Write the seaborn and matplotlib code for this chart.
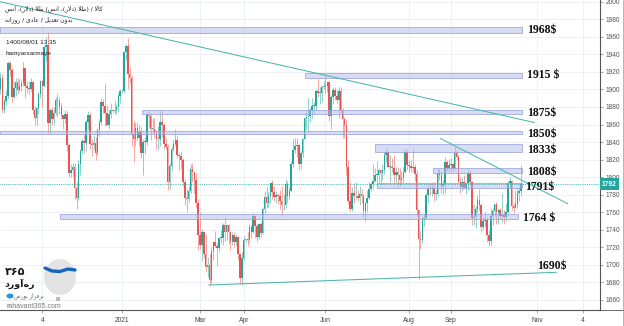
import numpy as np
import pandas as pd
import matplotlib
matplotlib.use("Agg")
import matplotlib.pyplot as plt
import seaborn as sns
from matplotlib.patches import Rectangle, Ellipse
from matplotlib.lines import Line2D

# ---------------- data (daily gold candles) ----------------
start_date = "2020-10-05"
end_date = "2021-10-22"
first_open = 1900

close = [
    1913, 1877, 1887, 1893, 1930, 1922, 1891, 1902, 1908, 1899,
    1904, 1907, 1924, 1904, 1902, 1901, 1908, 1877, 1868, 1879,
    1895, 1910, 1904, 1948, 1951, 1862, 1877, 1866, 1873, 1888,
    1887, 1880, 1871, 1866, 1872, 1837, 1805, 1808, 1811, 1788,
    1776, 1815, 1830, 1841, 1839, 1863, 1871, 1838, 1837, 1839,
    1827, 1854, 1863, 1886, 1881, 1873, 1859, 1872, 1876, 1875,
    1877, 1880, 1893, 1898, 1898, 1943, 1950, 1918, 1913, 1849,
    1844, 1856, 1845, 1851, 1828, 1840, 1840, 1871, 1870, 1855,
    1855, 1850, 1843, 1843, 1863, 1860, 1838, 1834, 1794, 1813,
    1832, 1838, 1842, 1825, 1824, 1819, 1795, 1776, 1775, 1784,
    1809, 1806, 1797, 1770, 1734, 1723, 1738, 1712, 1697, 1700,
    1683, 1716, 1726, 1722, 1719, 1731, 1731, 1745, 1737, 1745,
    1738, 1726, 1734, 1726, 1732, 1712, 1685, 1708, 1728, 1729,
    1728, 1743, 1737, 1756, 1744, 1732, 1746, 1736, 1764, 1777,
    1770, 1779, 1793, 1783, 1777, 1780, 1778, 1773, 1768, 1768,
    1792, 1779, 1784, 1815, 1831, 1836, 1837, 1815, 1827, 1843,
    1867, 1869, 1870, 1877, 1881, 1881, 1898, 1896, 1896, 1903,
    1904, 1904, 1908, 1870, 1891, 1899, 1893, 1888, 1898, 1877,
    1866, 1859, 1812, 1773, 1764, 1782, 1778, 1779, 1776, 1781,
    1779, 1761, 1770, 1776, 1787, 1792, 1796, 1803, 1803, 1808,
    1805, 1808, 1825, 1829, 1812, 1812, 1810, 1803, 1806, 1802,
    1797, 1799, 1806, 1829, 1814, 1813, 1810, 1812, 1804, 1763,
    1729, 1728, 1752, 1753, 1780, 1787, 1786, 1788, 1781, 1781,
    1805, 1802, 1790, 1792, 1817, 1810, 1814, 1815, 1810, 1828,
    1823, 1795, 1789, 1795, 1788, 1793, 1805, 1795, 1753, 1754,
    1764, 1774, 1768, 1743, 1750, 1751, 1734, 1727, 1756, 1761,
    1769, 1760, 1763, 1756, 1757, 1754, 1760, 1793, 1796, 1767,
    1765, 1769, 1782, 1784, 1792,
]
high = [
    1920, 1918, 1889, 1899, 1933, 1933, 1925, 1909, 1913, 1913,
    1912, 1912, 1931, 1925, 1910, 1910, 1913, 1910, 1881, 1880,
    1897, 1911, 1911, 1950, 1960, 1965, 1879, 1880, 1880, 1891,
    1896, 1891, 1884, 1871, 1876, 1875, 1839, 1815, 1816, 1816,
    1794, 1819, 1832, 1845, 1848, 1866, 1875, 1874, 1843, 1848,
    1846, 1856, 1866, 1890, 1889, 1907, 1882, 1878, 1884, 1878,
    1888, 1883, 1896, 1900, 1900, 1944, 1952, 1959, 1926, 1916,
    1864, 1863, 1863, 1860, 1857, 1843, 1846, 1874, 1876, 1873,
    1867, 1867, 1854, 1858, 1875, 1876, 1862, 1845, 1837, 1816,
    1836, 1843, 1855, 1848, 1828, 1830, 1822, 1798, 1787, 1790,
    1815, 1816, 1805, 1805, 1775, 1760, 1741, 1738, 1735, 1709,
    1712, 1720, 1727, 1739, 1725, 1731, 1740, 1748, 1755, 1747,
    1747, 1738, 1738, 1738, 1735, 1733, 1713, 1715, 1733, 1730,
    1738, 1746, 1745, 1759, 1756, 1746, 1748, 1749, 1766, 1784,
    1790, 1783, 1794, 1797, 1790, 1784, 1782, 1785, 1790, 1781,
    1798, 1796, 1789, 1818, 1844, 1845, 1845, 1838, 1830, 1845,
    1869, 1875, 1890, 1879, 1890, 1886, 1900, 1913, 1903, 1905,
    1910, 1916, 1909, 1909, 1894, 1903, 1903, 1899, 1903, 1903,
    1879, 1869, 1866, 1819, 1794, 1789, 1793, 1795, 1785, 1790,
    1786, 1781, 1771, 1785, 1795, 1795, 1815, 1810, 1818, 1810,
    1809, 1815, 1829, 1834, 1831, 1825, 1822, 1825, 1812, 1811,
    1810, 1807, 1811, 1833, 1832, 1820, 1820, 1832, 1815, 1808,
    1764, 1739, 1756, 1758, 1782, 1791, 1793, 1795, 1795, 1785,
    1809, 1809, 1807, 1797, 1823, 1819, 1821, 1822, 1816, 1834,
    1831, 1826, 1800, 1799, 1803, 1795, 1809, 1808, 1796, 1769,
    1767, 1780, 1787, 1770, 1754, 1760, 1754, 1740, 1765, 1765,
    1769, 1772, 1765, 1765, 1782, 1763, 1770, 1796, 1800, 1797,
    1770, 1785, 1788, 1789, 1814,
]
low = [
    1895, 1873, 1873, 1882, 1889, 1915, 1886, 1890, 1893, 1895,
    1898, 1898, 1904, 1890, 1896, 1895, 1898, 1872, 1859, 1860,
    1872, 1890, 1880, 1903, 1932, 1850, 1849, 1860, 1861, 1871,
    1869, 1872, 1866, 1855, 1862, 1830, 1800, 1800, 1800, 1775,
    1764, 1774, 1803, 1826, 1828, 1830, 1855, 1832, 1824, 1831,
    1820, 1825, 1847, 1859, 1873, 1858, 1858, 1855, 1868, 1873,
    1872, 1872, 1874, 1885, 1896, 1896, 1934, 1901, 1907, 1835,
    1817, 1836, 1842, 1836, 1822, 1803, 1826, 1837, 1857, 1842,
    1851, 1845, 1832, 1831, 1835, 1846, 1832, 1832, 1785, 1787,
    1807, 1830, 1836, 1822, 1808, 1809, 1790, 1768, 1760, 1770,
    1782, 1795, 1782, 1765, 1717, 1718, 1704, 1708, 1692, 1686,
    1676, 1679, 1705, 1720, 1699, 1716, 1725, 1723, 1727, 1728,
    1724, 1717, 1723, 1720, 1723, 1705, 1678, 1677, 1705, 1726,
    1721, 1725, 1731, 1736, 1731, 1727, 1730, 1732, 1735, 1759,
    1765, 1766, 1770, 1775, 1773, 1770, 1769, 1764, 1756, 1763,
    1765, 1770, 1774, 1784, 1812, 1828, 1823, 1808, 1809, 1823,
    1843, 1855, 1852, 1863, 1868, 1872, 1877, 1891, 1883, 1886,
    1900, 1896, 1897, 1864, 1855, 1883, 1888, 1884, 1868, 1873,
    1845, 1845, 1803, 1769, 1761, 1761, 1771, 1775, 1773, 1768,
    1771, 1755, 1750, 1760, 1775, 1784, 1786, 1794, 1793, 1795,
    1791, 1797, 1804, 1817, 1810, 1795, 1806, 1794, 1793, 1789,
    1790, 1792, 1794, 1805, 1808, 1806, 1806, 1806, 1796, 1756,
    1684, 1718, 1725, 1744, 1752, 1771, 1780, 1778, 1773, 1774,
    1778, 1797, 1782, 1780, 1782, 1807, 1806, 1807, 1805, 1808,
    1819, 1794, 1782, 1784, 1786, 1781, 1785, 1792, 1745, 1745,
    1742, 1760, 1763, 1737, 1740, 1743, 1726, 1721, 1723, 1745,
    1756, 1746, 1746, 1752, 1749, 1747, 1750, 1757, 1788, 1762,
    1759, 1765, 1765, 1773, 1778,
]
last_price = 1792

# horizontal support / resistance zones
zone_labels = ["1968$", "1915 $", "1875$", "1850$", "1833$", "1808$", "1791$", "1764 $"]
zone_low = [1964.0, 1913.0, 1872.0, 1849.6, 1829.0, 1805.0, 1787.3, 1752.0]
zone_high = [1971.0, 1919.0, 1876.6, 1853.0, 1837.8, 1810.4, 1793.7, 1758.0]

# x-axis labels
tick_dates = ["2020-11-04", "2021-01-01", "2021-03-01", "2021-04-01",
              "2021-06-01", "2021-08-02", "2021-09-01"]
tick_texts = ["4", "2021", "Mar", "Apr", "Jun", "Aug", "Sep", "Nov", "4"]
future_ticks = [282.4, 306.4]

# ---------------- layout / styles ----------------
zone_start = [-0.3, 160.3, 74.3, -0.3, 197.1, 227.8, 198.0, 31.3]
zone_end = [274.5, 274.5, 274.5, 274.5, 274.5, 274.5, 274.5, 272.4]
label_x = [277.1, 277.1, 277.1, 277.1, 277.1, 277.1, 276.0, 275.0]
label_y = [1967.8, 1916.5, 1873.5, 1848.9, 1831.3, 1805.5, 1788.4, 1753.1]
trend_lines = [((-0.3, 2000.1), (281.3, 1862.1)),
               ((231.3, 1844.3), (298.8, 1769.4)),
               ((109.4, 1677.0), (292.7, 1691.5))]
support_label = ("1690$", 282.4, 1698.7)

UP = "#26a69a"
DOWN = "#ef5350"
TEAL = "#4db6ac"
GRID = "#edf1f6"

sns.set_theme(style="white")
plt.rcParams["font.family"] = ["Liberation Sans", "DejaVu Sans"]

# ---------------- simple Persian shaping (presentation forms) ----------------
FORMS = {  # isolated, final, initial, medial
    'ا': ('\uFE8D', '\uFE8E', None, None),
    'آ': ('\uFE81', '\uFE82', None, None),
    'ب': ('\uFE8F', '\uFE90', '\uFE91', '\uFE92'),
    'ت': ('\uFE95', '\uFE96', '\uFE97', '\uFE98'),
    'د': ('\uFEA9', '\uFEAA', None, None),
    'ر': ('\uFEAD', '\uFEAE', None, None),
    'ز': ('\uFEAF', '\uFEB0', None, None),
    'س': ('\uFEB1', '\uFEB2', '\uFEB3', '\uFEB4'),
    'ط': ('\uFEC1', '\uFEC2', '\uFEC3', '\uFEC4'),
    'ع': ('\uFEC9', '\uFECA', '\uFECB', '\uFECC'),
    'ف': ('\uFED1', '\uFED2', '\uFED3', '\uFED4'),
    'ک': ('\uFB8E', '\uFB8F', '\uFB90', '\uFB91'),
    'ل': ('\uFEDD', '\uFEDE', '\uFEDF', '\uFEE0'),
    'ن': ('\uFEE5', '\uFEE6', '\uFEE7', '\uFEE8'),
    'ه': ('\uFEE9', '\uFEEA', '\uFEEB', '\uFEEC'),
    'و': ('\uFEED', '\uFEEE', None, None),
    'ی': ('\uFBFC', '\uFBFD', '\uFBFE', '\uFBFF'),
}


def shape(text):
    ch = list(text)
    n = len(ch)
    out = []

    def joins_prev(k):
        return k - 1 >= 0 and ch[k - 1] in FORMS and FORMS[ch[k - 1]][2] is not None

    i = 0
    while i < n:
        c = ch[i]
        if c == 'ل' and i + 1 < n and ch[i + 1] in 'اآ':
            lig = ('\uFEFB', '\uFEFC') if ch[i + 1] == 'ا' else ('\uFEF5', '\uFEF6')
            out.append(lig[1] if joins_prev(i) else lig[0])
            i += 2
            continue
        if c in FORMS:
            iso, fin, ini, med = FORMS[c]
            p = joins_prev(i)
            nx = ini is not None and i + 1 < n and ch[i + 1] in FORMS
            out.append(med if (p and nx) else fin if p else ini if nx else iso)
        elif c != '\u200c':
            out.append(c)
        i += 1
    vis = ''.join(reversed(out))
    return vis.translate(str.maketrans('()', ')('))


# ---------------- figure ----------------
W, H = 624, 326
fig = plt.figure(figsize=(W / 100, H / 100), dpi=100)
ax = fig.add_axes([0, 16 / H, 600 / W, 310 / H])
ax.set_facecolor("white")

dates = pd.bdate_range(start_date, end_date)
n = len(close)
assert len(dates) == n == len(high) == len(low)
opens = np.array([first_open] + close[:-1], dtype=float)
df = pd.DataFrame({"date": dates, "open": opens, "high": high,
                   "low": low, "close": close})
df["x"] = np.arange(n)
df["up"] = df["close"] >= df["open"]
df["bottom"] = df[["open", "close"]].min(axis=1)
df["body"] = (df["close"] - df["open"]).abs().clip(lower=0.8)

wick_cols = [(0.15, 0.65, 0.60, 0.6) if u else (0.94, 0.33, 0.31, 0.6) for u in df["up"]]
body_cols = [UP if u else DOWN for u in df["up"]]

ax.vlines(df["x"], df["low"], df["high"], colors=wick_cols, lw=0.6, zorder=2)
ax.bar(df["x"], df["body"], bottom=df["bottom"], width=0.82,
       color=body_cols, linewidth=0, zorder=3)

# zones
for lo, hi, x0, x1 in zip(zone_low, zone_high, zone_start, zone_end):
    ax.add_patch(Rectangle((x0, lo), x1 - x0, hi - lo,
                           facecolor=(0.70, 0.73, 0.90, 0.50),
                           edgecolor=(0.58, 0.62, 0.86, 0.85), lw=0.6, zorder=4))
for txt, lx, ly in zip(zone_labels, label_x, label_y):
    ax.text(lx, ly, txt, ha="left", va="center", fontsize=8.5,
            fontweight="bold", family="Liberation Serif", color="#111", zorder=6)
ax.text(support_label[1], support_label[2], support_label[0], ha="left", va="center",
        fontsize=8.5, fontweight="bold", family="Liberation Serif", color="#111", zorder=6)

# trend lines
for (xa, ya), (xb, yb) in trend_lines:
    ax.plot([xa, xb], [ya, yb], color=TEAL, lw=0.75, zorder=5, solid_capstyle="butt")

# last price line
ax.axhline(last_price, color=UP, lw=0.6, ls=(0, (1, 1.2)), zorder=4)
ax.annotate(str(last_price), xy=(1, last_price), xycoords=("axes fraction", "data"),
            xytext=(1.5, 0), textcoords="offset points", ha="left", va="center",
            fontsize=4.8, color="white", fontweight="bold",
            bbox=dict(boxstyle="square,pad=0.35", fc=UP, ec="none"),
            annotation_clip=False, zorder=10)

# axes
ax.set_xlim(-0.26, 315.5)
ax.set_ylim(1648.5, 2002)
tick_pos = [dates.get_loc(pd.Timestamp(d)) if pd.Timestamp(d) in dates
            else dates.searchsorted(pd.Timestamp(d)) for d in tick_dates] + future_ticks
ax.set_xticks(tick_pos)
ax.set_xticklabels(tick_texts)
ax.set_yticks(np.arange(1660, 2001, 20))
ax.yaxis.tick_right()
ax.grid(True, color=GRID, lw=0.7, zorder=0)
ax.set_axisbelow(True)
ax.tick_params(axis="y", length=2.5, width=0.5, pad=1.5, labelsize=4.8,
               labelcolor="#555", color="#888", right=True, left=False)
ax.tick_params(axis="x", length=2, width=0.5, pad=3, labelsize=4.8,
               labelcolor="#444", color="#888", bottom=True)
for s in ["top", "left"]:
    ax.spines[s].set_visible(False)
for s in ["right", "bottom"]:
    ax.spines[s].set_color("#555")
    ax.spines[s].set_linewidth(0.8)

# frame pieces outside the axes
fig.add_artist(Line2D([600 / W, 1], [16 / H, 16 / H], color="#555", lw=0.6))
fig.add_artist(Line2D([622.5 / W, 622.5 / W], [0, 1], color="#999", lw=0.5))


def fx(px):
    return px / W


def fy(py):
    return 1 - py / H


# header texts
line1 = shape("طلا (دلار)، انس") + " " + shape("(طلا (دلار)، انس)") + " / " + shape("کالا")
line2 = shape("روزانه") + " / " + shape("عادی") + " / " + shape("بدون تعدیل")
fig.text(fx(5), fy(9), line1, fontsize=4.3, family=["DejaVu Sans"], color="#222",
         ha="left", va="center")
fig.text(fx(5), fy(20), line2, fontsize=4.3, family=["DejaVu Sans"], color="#222",
         ha="left", va="center")
fig.text(fx(6), fy(42), "1400/08/01 13:35", fontsize=4.6, color="#222",
         ha="left", va="center", zorder=10)
fig.text(fx(6), fy(53), "hamyarsarmaye", fontsize=4.6, color="#222",
         ha="left", va="center", zorder=10)

# logo
fig.add_artist(Ellipse((fx(60), fy(277)), 32 / W, 36 / H, facecolor="#e3e3e3",
                       edgecolor="none", zorder=5))
fig.add_artist(Line2D([fx(45), fx(52), fx(60), fx(68), fx(75)],
                      [fy(268), fy(271), fy(271.5), fy(269), fy(270)],
                      color="#1565c0", lw=2.4, zorder=6, solid_capstyle="round"))
fig.add_artist(Rectangle((fx(56), fy(301)), 4 / W, 4 / H, facecolor="#bbb",
                         edgecolor="none", zorder=6))
fig.add_artist(Ellipse((fx(10), fy(296)), 7 / W, 5 / H, facecolor="#2f8fe0",
                       edgecolor="none", zorder=6))
fig.text(fx(15), fy(272), "۳۶۵", fontsize=8, fontweight="bold", family=["DejaVu Sans"],
         color="#1a1a1a", ha="center", va="center", zorder=7)
fig.text(fx(20), fy(284), shape("ره\u200cآورد"), fontsize=6.8, fontweight="bold",
         family=["DejaVu Sans"], color="#1a1a1a", ha="center", va="center", zorder=7)
fig.text(fx(29), fy(295.5), shape("برفراز بورس"), fontsize=4.0, family=["DejaVu Sans"],
         color="#666", ha="center", va="center", zorder=7)
fig.text(fx(34), fy(306.5), "rahavard365.com", fontsize=5, color="#777",
         ha="center", va="center", zorder=7)

fig.savefig("out.png", dpi=100, facecolor="white")
